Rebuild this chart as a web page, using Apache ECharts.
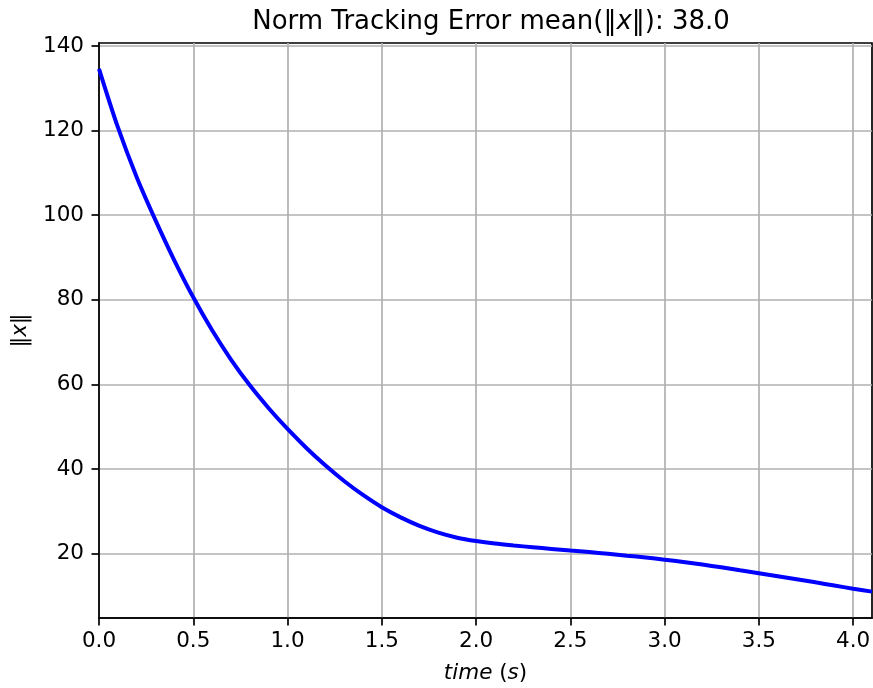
<!DOCTYPE html>
<html>
<head>
<meta charset="utf-8">
<script src="https://cdn.jsdelivr.net/npm/echarts@6/dist/echarts.min.js"></script>
<style>
html,body{margin:0;padding:0;background:#fff;}
#chart{width:873px;height:688px;}
</style>
</head>
<body>
<div id="chart"></div>
<script>
const timeValues = [0.0,0.1,0.2,0.3,0.4,0.5,0.6,0.7,0.8,0.9,1.0,1.1,1.2,1.3,1.4,1.5,1.6,1.7,1.8,1.9,2.0,2.1,2.2,2.3,2.4,2.5,2.6,2.7,2.8,2.9,3.0,3.1,3.2,3.3,3.4,3.5,3.6,3.7,3.8,3.9,4.0,4.1];
const normValues = [134.6,120.8,109.0,98.8,89.3,80.6,72.8,65.9,59.8,54.4,49.5,45.0,40.9,37.2,33.9,31.0,28.6,26.6,25.0,23.8,23.0,22.4,21.95,21.55,21.15,20.75,20.4,20.0,19.55,19.1,18.6,18.05,17.45,16.8,16.1,15.4,14.7,14.0,13.25,12.5,11.75,11.05];
const xTicks = [0.0,0.5,1.0,1.5,2.0,2.5,3.0,3.5,4.0];
const yTicks = [20,40,60,80,100,120,140];

const FONT = 'DejaVu Sans';
const FS = 21.5;
const chart = echarts.init(document.getElementById('chart'), null, {renderer:'canvas'});
const italic = {fontFamily: FONT, fontStyle: 'italic', fontSize: FS, color: '#000'};

chart.setOption({
  animation: false,
  backgroundColor: '#fff',
  title: {
    text: 'Norm Tracking Error mean(‖{i|x}‖): 38.0',
    left: 486, top: 4, textAlign: 'center',
    textStyle: {fontFamily: FONT, fontSize: 26, fontWeight: 'normal', color: '#000',
      rich: {i: {fontFamily: FONT, fontStyle: 'italic', fontSize: 26, color: '#000'}}}
  },
  grid: {left: 99, top: 43, right: 1, bottom: 70, containLabel: false, outerBoundsMode: 'none',
         show: true, borderColor: '#000', borderWidth: 1.7},
  xAxis: {
    type: 'value', min: 0, max: 4.1,
    name: '{i|time} ({i|s})', nameLocation: 'middle', nameGap: 44,
    nameTextStyle: {fontFamily: FONT, fontSize: FS, color: '#000', rich: {i: italic}},
    axisLine: {show: true, onZero: false, lineStyle: {color: '#000', width: 1.7}},
    axisTick: {show: true, length: 7.5, customValues: xTicks, lineStyle: {color: '#000', width: 1.7}},
    axisLabel: {customValues: xTicks, margin: 12, fontFamily: FONT, fontSize: FS, color: '#000',
      formatter: v => v.toFixed(1)},
    splitLine: {show: true, lineStyle: {color: '#b0b0b0', width: 1.7}}
  },
  yAxis: {
    type: 'value', min: 4.82, max: 140.7,
    name: '‖{i|x}‖', nameLocation: 'middle', nameGap: 68, nameRotate: 90,
    nameTextStyle: {fontFamily: FONT, fontSize: FS, color: '#000', rich: {i: italic}},
    axisLine: {show: true, onZero: false, lineStyle: {color: '#000', width: 1.7}},
    axisTick: {show: true, length: 7.5, customValues: yTicks, lineStyle: {color: '#000', width: 1.7}},
    axisLabel: {customValues: yTicks, margin: 15, fontFamily: FONT, fontSize: FS, color: '#000'},
    splitLine: {show: true, lineStyle: {color: '#b0b0b0', width: 1.7}}
  },
  series: [{
    type: 'line',
    data: timeValues.map((t, i) => [t, normValues[i]]),
    smooth: 0.3,
    showSymbol: false,
    lineStyle: {color: '#0000ff', width: 4},
    clip: true
  }]
});
</script>
</body>
</html>
